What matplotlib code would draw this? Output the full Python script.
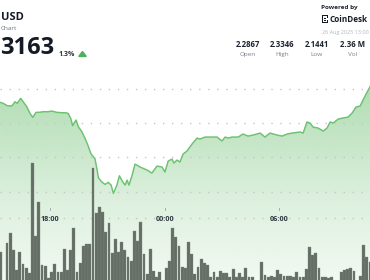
import matplotlib
matplotlib.use("Agg")
import matplotlib.pyplot as plt
import matplotlib.dates as mdates
import matplotlib.transforms as mtransforms
import numpy as np
import pandas as pd
from matplotlib.patches import Rectangle, Polygon, RegularPolygon

# ---------------- data ----------------
line_times = ["15:23", "15:33", "15:46", "16:00", "16:10", "16:17", "16:28", "16:34", "16:47", "16:57",
              "17:06", "17:16", "17:26", "17:39", "17:55", "18:05", "18:21", "18:37", "18:47", "18:57",
              "19:05", "19:11", "19:15", "19:22", "19:29", "19:40", "19:50", "20:00", "20:08", "20:16",
              "20:21", "20:27", "20:32", "20:42", "20:53", "21:03", "21:12", "21:19", "21:30", "21:38",
              "21:48", "21:56", "22:02", "22:08", "22:18", "22:27", "22:43", "23:05", "23:20", "23:36",
              "23:52", "00:01", "00:11", "00:23", "00:29", "00:39", "00:48", "00:58", "01:10", "01:26",
              "01:42", "01:51", "02:07", "02:23", "02:45", "03:00", "03:10", "03:19", "03:32", "03:51",
              "04:06", "04:22", "04:38", "05:00", "05:15", "05:31", "05:53", "06:09", "06:25", "06:40",
              "07:05", "07:15", "07:27", "07:37", "07:46", "08:02", "08:18", "08:30", "08:40", "08:49",
              "09:05", "09:20", "09:36", "09:49", "10:01", "10:14", "10:23", "10:36", "10:45", "10:50"]
line_prices = [2.2802, 2.2787, 2.2752, 2.2748, 2.2810, 2.2787, 2.2860, 2.2821, 2.2738, 2.2641,
               2.2583, 2.2656, 2.2656, 2.2665, 2.2665, 2.2675, 2.2656, 2.2650, 2.2650, 2.2641,
               2.2569, 2.2461, 2.2496, 2.2544, 2.2446, 2.2373, 2.2277, 2.2165, 2.2058, 2.2009,
               2.1985, 2.1840, 2.1703, 2.1644, 2.1606, 2.1636, 2.1596, 2.1475, 2.1596, 2.1732,
               2.1644, 2.1596, 2.1669, 2.1596, 2.1742, 2.1902, 2.1859, 2.1815, 2.1771, 2.1873,
               2.1859, 2.1786, 2.1946, 2.1975, 2.1917, 2.1961, 2.1932, 2.2048, 2.2092, 2.2194,
               2.2281, 2.2267, 2.2296, 2.2296, 2.2296, 2.2238, 2.2296, 2.2281, 2.2296, 2.2296,
               2.2340, 2.2310, 2.2325, 2.2354, 2.2296, 2.2354, 2.2325, 2.2310, 2.2340, 2.2354,
               2.2369, 2.2354, 2.2515, 2.2500, 2.2442, 2.2427, 2.2383, 2.2427, 2.2515, 2.2500,
               2.2558, 2.2573, 2.2587, 2.2646, 2.2733, 2.2748, 2.2835, 2.2952, 2.3025, 2.3100]

volume_start = "2025-08-25 15:20"
volumes_k = [32, 2, 41, 51, 34, 14, 32, 20, 16, 11,
             121, 48, 82, 19, 18, 6, 12, 20, 12, 12,
             35, 14, 34, 56, 12, 21, 38, 40, 40, 116,
             71, 77, 72, 52, 61, 31, 45, 32, 42, 34,
             27, 23, 53, 43, 62, 30, 10, 35, 13, 7,
             12, 3, 16, 23, 56, 47, 38, 17, 16, 42,
             30, 10, 17, 25, 21, 19, 7, 12, 7, 13,
             11, 11, 7, 15, 7, 11, 7, 16, 7, 7,
             2, 2, 22, 9, 7, 8, 7, 14, 10, 8,
             8, 8, 7, 12, 7, 7, 15, 37, 29, 31,
             16, 7, 7, 6, 7, 2, 2, 12, 14, 15,
             16, 13, 2, 8, 39, 27, 22]

tick_times = ["2025-08-25 18:00", "2025-08-26 00:00", "2025-08-26 06:00"]
tick_labels = ["18:00", "00:00", "06:00"]
price_grid = [2.30, 2.25, 2.20, 2.15]

pair_name = "USD"
subtitle = "Chart"
last_price = "3163"
change_pct = "1.3%"
stat_values = ["2.2867", "2.3346", "2.1441", "2.36 M"]
stat_labels = ["Open", "High", "Low", "Vol"]
timestamp = "26 Aug 2025 13:00"

# ---------------- helpers ----------------
W, H = 370, 280
fig = plt.figure(figsize=(W / 100, H / 100), dpi=100)
fig.patch.set_facecolor("white")


def fx(x):
    return x / W


def fy(y):
    return 1 - y / H


# convert line times (roll over midnight)
day0 = pd.Timestamp("2025-08-25")
stamps = []
day = 0
prev = -1
for t in line_times:
    hh, mm = map(int, t.split(":"))
    minutes = hh * 60 + mm
    if minutes < prev:
        day += 1
    prev = minutes
    stamps.append(day0 + pd.Timedelta(days=day, minutes=minutes))
lx = mdates.date2num(stamps)
ly = np.array(line_prices)

x_left = mdates.date2num(pd.Timestamp("2025-08-25 15:22:54"))
x_right = mdates.date2num(pd.Timestamp("2025-08-26 10:45:00"))
p_bot, p_top = 2.02141, 2.42917

# ---------------- base axes: fill + grid ----------------
ax = fig.add_axes([0, 0, 1, 1])
ax.set_xlim(x_left, x_right)
ax.set_ylim(p_bot, p_top)
ax.axis("off")
ax.set_zorder(1)

rows = np.arange(H)  # pixel rows from top
alpha = np.interp(rows, [0, 90, 200, 280], [0.55, 0.47, 0.21, 0.08])
grad = np.zeros((H, 1, 4))
grad[:, 0, :3] = np.array([92, 184, 96]) / 255.0
grad[:, 0, 3] = alpha
im = ax.imshow(grad, extent=[x_left, x_right, p_bot, p_top], origin="upper",
               aspect="auto", zorder=1, interpolation="bilinear")
poly_x = np.concatenate([[lx[0]], lx, [lx[-1]]])
poly_y = np.concatenate([[p_bot - 0.1], ly, [p_bot - 0.1]])
clip = Polygon(np.column_stack([poly_x, poly_y]), closed=True, transform=ax.transData,
               facecolor="none", edgecolor="none")
ax.add_patch(clip)
im.set_clip_path(clip)
ax.set_xlim(x_left, x_right)
ax.set_ylim(p_bot, p_top)

for g in price_grid:
    ax.axhline(g, color="#c4c6c8", lw=1.0, ls=(0, (1, 5.5)), zorder=2)
# time-axis dotted line
fig.add_artist(plt.Line2D([0, 1], [fy(218.3), fy(218.3)], color="#c4c6c8", lw=1.0,
                          ls=(0, (1, 5.5)), zorder=2))

# ---------------- volume bars ----------------
axv = fig.add_axes([0, 0, 1, 1], sharex=ax)
axv.set_ylim(4, 284)
axv.axis("off")
axv.patch.set_alpha(0)
axv.set_zorder(2)
bar_t = pd.date_range(volume_start, periods=len(volumes_k), freq="10min")
bx = mdates.date2num(bar_t) + 5 / 1440.0
axv.bar(bx, volumes_k, width=8.9 / 1440.0, color="#646e64", edgecolor="#7d877d",
        linewidth=0.25, zorder=3)
axv.set_ylim(4, 284)

# ---------------- price line ----------------
axl = fig.add_axes([0, 0, 1, 1], sharex=ax)
axl.set_ylim(p_bot, p_top)
axl.axis("off")
axl.patch.set_alpha(0)
axl.set_zorder(3)
axl.plot(lx, ly, color="#6cc270", lw=1.05, solid_joinstyle="round", zorder=4)
axl.set_xlim(x_left, x_right)
axl.set_ylim(p_bot, p_top)

# time ticks & labels
trans = mtransforms.blended_transform_factory(axl.transData, axl.transAxes)
tt = mdates.date2num(pd.to_datetime(tick_times))
for t, lab in zip(tt, tick_labels):
    axl.plot([t, t], [fy(209.5), fy(207.5)], color="#9aa0a6", lw=0.6, transform=trans)
    axl.text(t, fy(219.8), lab, transform=trans, ha="center", va="center",
             fontsize=5.2, fontweight="bold", color="#2f3640", family="Open Sans")

# ---------------- header ----------------
dark = "#151b26"
fig.text(fx(1), fy(17.5), pair_name, ha="left", va="center", fontsize=8,
         fontweight="bold", color=dark, family="Open Sans")
fig.text(fx(1), fy(28.3), subtitle, ha="left", va="center", fontsize=4.6,
         color="#6b7280", family="Open Sans")
fig.text(fx(0.5), fy(47.5), last_price, ha="left", va="center", fontsize=17,
         fontweight="bold", color=dark, family="Open Sans")
fig.text(fx(59), fy(54.5), change_pct, ha="left", va="center", fontsize=5,
         fontweight="bold", color="#2b3340", family="Open Sans")
fig.add_artist(RegularPolygon((fx(82.5), fy(54.8)), numVertices=3, radius=0.0118,
                              orientation=0, transform=fig.transFigure,
                              color="#4cb15a"))

fig.text(fx(321), fy(7.5), "Powered by", ha="left", va="center", fontsize=4.6,
         fontweight="bold", color="#222831", family="Open Sans")
# logo icon
for (x0, y0, w, h) in [(321.5, 15.0, 1.3, 8.0), (321.5, 15.0, 6.5, 1.3), (321.5, 21.7, 6.5, 1.3),
                       (326.5, 15.0, 1.3, 2.6), (326.5, 20.4, 1.3, 2.6), (324.2, 17.8, 1.3, 1.2),
                       (324.2, 19.9, 1.3, 1.2)]:
    fig.add_artist(Rectangle((fx(x0), fy(y0 + h)), w / W, h / H, transform=fig.transFigure,
                             color="#151b26", lw=0))
fig.text(fx(330), fy(19.3), "CoinDesk", ha="left", va="center", fontsize=5.9,
         fontweight="bold", color=dark, family="Open Sans")
fig.text(fx(322), fy(32.5), timestamp, ha="left", va="center", fontsize=4.0,
         color="#b3b8bf", family="Open Sans")

stat_x = [248, 282.5, 316.7, 352.5]
for x, v, lab in zip(stat_x, stat_values, stat_labels):
    fig.text(fx(x), fy(44.5), v, ha="center", va="center", fontsize=5.6,
             fontweight="bold", color="#1e2430", family="Open Sans")
    fig.text(fx(x), fy(54.3), lab, ha="center", va="center", fontsize=4.6,
             color="#7b828c", family="Open Sans")

fig.savefig("out.png", dpi=100, facecolor="white")
